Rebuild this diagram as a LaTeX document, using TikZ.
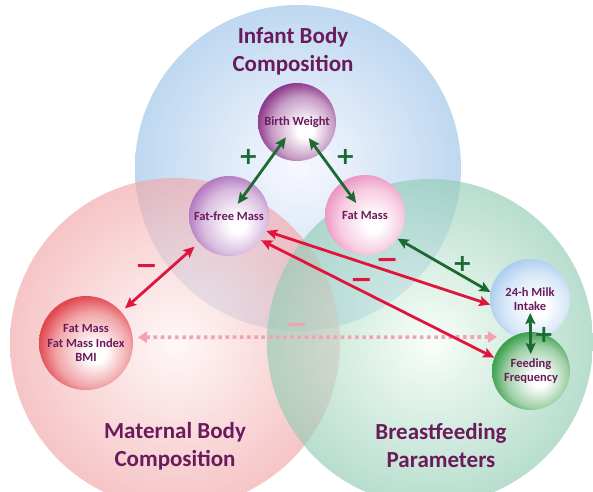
\documentclass[tikz,border=0pt]{standalone}
\usepackage{fontspec}
\setmainfont{Carlito}
\newfontfamily\signfont{DejaVu Sans}
\usetikzlibrary{arrows.meta}
\definecolor{plum}{HTML}{6A1B5C}
\definecolor{posgreen}{HTML}{1B6A32}
\definecolor{negred}{HTML}{E0143C}
\definecolor{dotpink}{HTML}{F2A3B3}
\definecolor{bwcol}{HTML}{8E3A8C}
\definecolor{ffmcol}{HTML}{B47CC2}
\definecolor{fmcol}{HTML}{EE98C2}
\definecolor{matcol}{HTML}{E2474F}
\definecolor{milkcol}{HTML}{AECFEF}
\definecolor{freqcol}{HTML}{3DA04F}
\colorlet{glowc}{white}
\pgfdeclareradialshading[glowc]{glow}{\pgfqpoint{6bp}{-6bp}}{color(0bp)=(white); color(5bp)=(white); color(20bp)=(glowc!50!white); color(28bp)=(glowc); color(50bp)=(glowc)}

\begin{document}
\begin{tikzpicture}[x=1pt, y=-1pt, >={Stealth[length=11pt, width=10pt, inset=2pt]},
  font=\bfseries\fontsize{12.5}{14.5}\selectfont, text=plum,
  venn/.style={opacity=0.65},
  ball/.style={circle, inner sep=0pt, minimum size=#1, align=center},
  glow/.style={/utils/exec={\colorlet{glowc}{#1}}, shading=glow},
  title/.style={font=\bfseries\fontsize{23}{28}\selectfont, align=center},
  greenarr/.style={<->, draw=posgreen, line width=2.8pt},
  redarr/.style={<->, draw=negred, line width=2.8pt},
  dotarr/.style={{Triangle[length=9pt, width=11pt]}-{Triangle[length=9pt, width=11pt]}, draw=dotpink, line width=3.6pt, dash pattern=on 3.6pt off 3.6pt},
  plussign/.style={font=\signfont\bfseries\fontsize{24}{24}\selectfont, text=posgreen, inner sep=1pt},
  minussign/.style={font=\signfont\bfseries\fontsize{27}{27}\selectfont, text=negred, inner sep=1pt}]
\useasboundingbox (0,0) rectangle (593,491);
\fill[white] (0,0) rectangle (593,491);
\shade[venn, inner color=blue!4, outer color={rgb,255:red,156;green,196;blue,234}] (298,168) circle[radius=163pt];
\shade[venn, inner color=red!4, outer color={rgb,255:red,242;green,166;blue,168}] (175,343) circle[radius=165pt];
\shade[venn, inner color=green!4, outer color={rgb,255:red,146;green,204;blue,180}] (430,342) circle[radius=163pt];

\node[title] (infant) at (293,51) {Infant Body\\Composition};
\node[title] (maternal) at (175,446) {Maternal Body\\Composition};
\node[title] (breast) at (441,446) {Breastfeeding\\Parameters};

\node[ball=78pt, glow=bwcol] (bw) at (297,122) {Birth Weight};
\node[ball=80pt, glow=ffmcol] (ffm) at (229,216) {Fat-free Mass};
\node[ball=80pt, glow=fmcol] (fm) at (365,215) {Fat Mass};
\node[ball=94pt, glow=matcol] (mat) at (86,343) {Fat Mass\\Fat Mass Index\\BMI};
\node[ball=80pt, glow=milkcol] (milk) at (530,299) {24-h Milk\\Intake};
\node[ball=78pt, glow=freqcol] (freq) at (531,371) {Feeding\\Frequency};

\coordinate (dotend) at (497,337);
\draw[dotarr, shorten <=5pt] (mat.7) -- (dotend) node[pos=0.45, above=1pt, minussign, text=dotpink] {−};
\draw[greenarr, shorten <=19pt, shorten >=15pt] (bw.center) -- (ffm.center) node[midway, above left=2pt, plussign] {+};
\draw[greenarr, shorten <=20pt, shorten >=15pt] (bw.center) -- (fm.center) node[midway, above right=2pt, plussign] {+};
\draw[greenarr] (fm.-36) -- (milk.170) node[pos=0.7, above=2pt, plussign] {+};
\draw[redarr] (ffm.-22) -- (milk.188) node[pos=0.54, above=0pt, minussign] {−};
\draw[redarr] (ffm.-37) -- (freq.160) node[pos=0.43, above=0pt, minussign] {−};
\draw[redarr, shorten <=6pt, shorten >=5pt] (ffm) -- (mat) node[midway, above left=0pt, minussign] {−};
\draw[greenarr, shorten <=14pt, shorten >=17pt] (milk.center) -- (freq.center) node[midway, right=1pt, plussign] {+};
\end{tikzpicture}
\end{document}
